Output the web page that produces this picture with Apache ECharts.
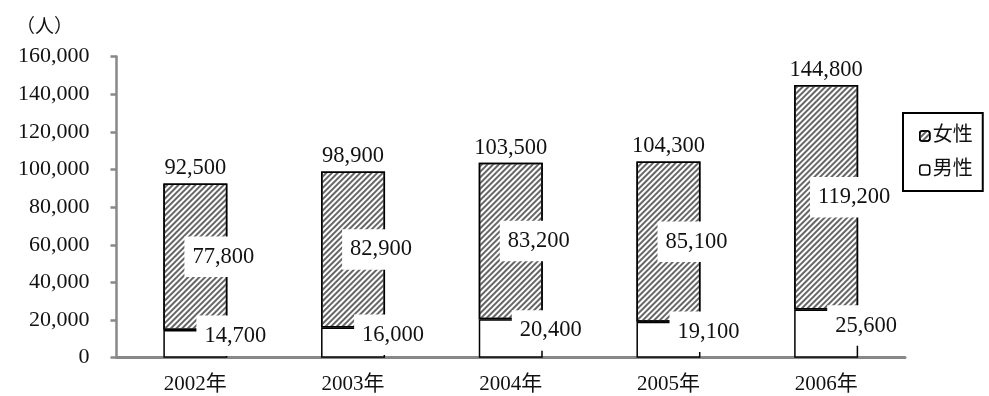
<!DOCTYPE html>
<html>
<head>
<meta charset="utf-8">
<script src="https://cdn.jsdelivr.net/npm/echarts@6/dist/echarts.min.js"></script>
<style>
  html, body { margin: 0; padding: 0; background: #fff; }
  #chart { width: 989px; height: 396px; }
</style>
</head>
<body>
<div id="chart"></div>
<script>
// Yearly head counts, split by sex, with the published totals
const years = ['2002年', '2003年', '2004年', '2005年', '2006年'];
const male = [14700, 16000, 20400, 19100, 25600];
const female = [77800, 82900, 83200, 85100, 119200];
const totals = [92500, 98900, 103500, 104300, 144800];
const yTicks = { min: 0, max: 160000, interval: 20000 };

const FONT = '"Liberation Serif", "Noto Sans CJK JP", serif';
const fmt = v => v.toLocaleString('en-US');

// diagonal hatching for the female segments
const hatch = {
  symbol: 'rect',
  symbolSize: 1,
  color: '#666',
  dashArrayX: [1, 0],
  dashArrayY: [1.1, 1.9],
  rotation: -Math.PI / 4
};

const segLabel = (dx, dy) => ({
  show: true,
  position: 'inside',
  offset: [dx, dy],
  formatter: p => fmt(p.value),
  fontFamily: FONT,
  fontSize: 22.5,
  color: '#111',
  backgroundColor: '#fff',
  padding: [9, 8, 9, 8]
});

const chart = echarts.init(document.getElementById('chart'));
chart.setOption({
  animation: false,
  backgroundColor: '#fff',
  textStyle: { fontFamily: FONT },
  title: {
    text: '（人）',
    left: 16,
    top: 19,
    padding: 0,
    textStyle: { fontFamily: FONT, fontSize: 19, fontWeight: 'normal', color: '#111' }
  },
  grid: { left: 116.5, right: 84, top: 56.5, bottom: 38.3, containLabel: false },
  legend: {
    data: ['女性', '男性'],
    orient: 'vertical',
    left: 903,
    top: 113,
    width: 85,
    padding: [13, 10, 11, 16],
    itemWidth: 10,
    itemHeight: 10,
    itemGap: 14,
    borderColor: '#000',
    borderWidth: 2,
    itemStyle: { borderWidth: 1.5 },
    textStyle: { fontFamily: FONT, fontSize: 20, color: '#111', padding: [0, 0, 0, -2] },
    selectedMode: false
  },
  xAxis: {
    type: 'category',
    data: years,
    axisLine: { lineStyle: { color: '#888', width: 3 } },
    axisTick: { show: false },
    axisLabel: { margin: 16, fontFamily: FONT, fontSize: 21, color: '#111' }
  },
  yAxis: {
    type: 'value',
    min: yTicks.min,
    max: yTicks.max,
    interval: yTicks.interval,
    axisLine: { show: true, lineStyle: { color: '#888', width: 2.5 } },
    axisTick: { show: true, length: 6, lineStyle: { color: '#888', width: 2.5 } },
    splitLine: { show: false },
    axisLabel: { margin: 27, fontFamily: FONT, fontSize: 22, color: '#111', formatter: v => fmt(v) }
  },
  series: [
    {
      name: '男性',
      type: 'bar',
      stack: 'sex',
      barWidth: 64,
      data: male,
      itemStyle: { color: '#fff', borderColor: '#000', borderWidth: 1.5 },
      label: segLabel(40, -8),
      z: 2
    },
    {
      name: '女性',
      type: 'bar',
      stack: 'sex',
      barWidth: 64,
      data: female,
      itemStyle: { color: '#fff', borderColor: '#000', borderWidth: 1.5, decal: hatch },
      label: segLabel(28, 0),
      z: 2
    },
    {
      name: '合計',
      type: 'bar',
      barWidth: 64,
      barGap: '-100%',
      data: totals,
      itemStyle: { color: 'rgba(0,0,0,0)' },
      label: {
        show: true,
        position: 'top',
        distance: 4,
        formatter: p => fmt(p.value),
        fontFamily: FONT,
        fontSize: 22.5,
        color: '#111'
      },
      z: 1,
      silent: true
    }
  ]
});
</script>
</body>
</html>
